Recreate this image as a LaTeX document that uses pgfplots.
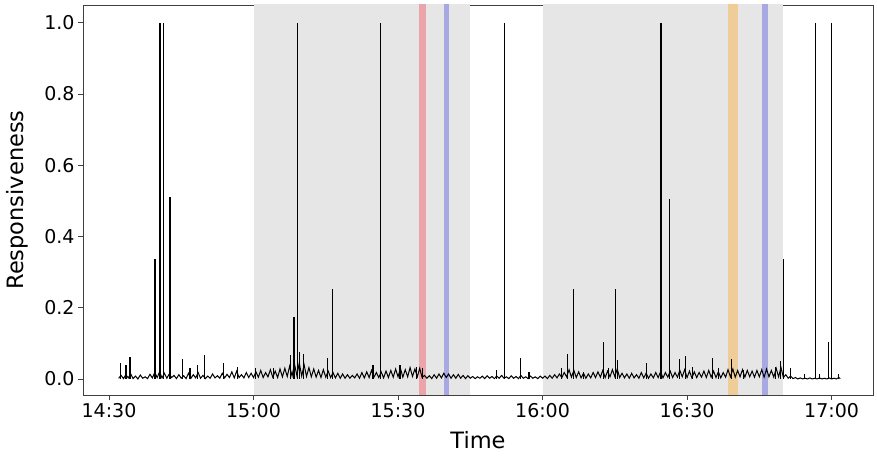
\documentclass[border=0pt]{standalone}
\usepackage{fontspec}
\setmainfont{DejaVu Sans}
\usepackage{pgfplots}
\pgfplotsset{compat=1.18}
\definecolor{spangrey}{HTML}{E6E6E6}
\definecolor{spanred}{HTML}{EBA5AA}
\definecolor{spanblue}{HTML}{A8A8E2}
\definecolor{spanorange}{HTML}{EECD98}

\begin{document}
\begin{tikzpicture}
\begin{axis}[
  scale only axis, width=790pt, height=390pt,
  xmin=-5.4, xmax=158.6, ymin=-0.045, ymax=1.05,
  xtick={0,30,60,90,120,150},
  xticklabels={14:30,15:00,15:30,16:00,16:30,17:00},
  ytick={0,0.2,0.4,0.6,0.8,1},
  yticklabel style={/pgf/number format/.cd, fixed, fixed zerofill, precision=1},
  /pgf/number format/assume math mode=true,
  tick pos=left, tick align=outside, major tick length=5pt,
  tick style={black!75, line width=0.8pt},
  axis line style={black!75, line width=0.8pt},
  ticklabel style={font=\fontsize{19}{22}\selectfont},
  label style={font=\fontsize{22.5}{26}\selectfont},
  xlabel={Time}, ylabel={Responsiveness},
  xlabel style={at={(axis description cs:0.5,-0.1154)}, anchor=center},
  ylabel style={at={(axis description cs:-0.0835,0.5)}, anchor=center},
]
% shaded periods (minutes after 14:30)
\addplot[draw=none, fill=spangrey] coordinates {(30,-1) (75,-1) (75,2) (30,2)} -- cycle;
\addplot[draw=none, fill=spangrey] coordinates {(90,-1) (140,-1) (140,2) (90,2)} -- cycle;
\addplot[draw=none, fill=spanred] coordinates {(64.4,-1) (65.8,-1) (65.8,2) (64.4,2)} -- cycle;
\addplot[draw=none, fill=spanblue] coordinates {(69.5,-1) (70.6,-1) (70.6,2) (69.5,2)} -- cycle;
\addplot[draw=none, fill=spanorange] coordinates {(128.4,-1) (130.6,-1) (130.6,2) (128.4,2)} -- cycle;
\addplot[draw=none, fill=spanblue] coordinates {(135.5,-1) (136.7,-1) (136.7,2) (135.5,2)} -- cycle;
% baseline noise
\addplot[black, line width=1pt] coordinates {
(2.0,0.002) (2.5,0.010) (3,0.001) (3.5,0.012) (4,0.003) (4.5,0.014) (5,0.001) (5.5,0.008) (6,0.000) (6.5,0.011)
(7,0.002) (7.5,0.006) (8,0.001) (8.5,0.013) (9,0.003) (9.5,0.018) (10,0.004) (10.5,0.020) (11,0.003) (11.5,0.016)
(12,0.002) (12.5,0.014) (13,0.004) (13.5,0.010) (14,0.001) (14.5,0.012) (15,0.002) (15.5,0.009) (16,0.001) (16.5,0.016)
(17,0.002) (17.5,0.012) (18,0.003) (18.5,0.018) (19,0.002) (19.5,0.010) (20,0.001) (20.5,0.008) (21,0.002) (21.5,0.014)
(22,0.003) (22.5,0.009) (23,0.002) (23.5,0.016) (24,0.003) (24.5,0.013) (25,0.004) (25.5,0.020) (26,0.003) (26.5,0.022)
(27,0.004) (27.5,0.012) (28,0.003) (28.5,0.018) (29,0.004) (29.5,0.016)
(30,0.004) (30.5,0.020) (31,0.005) (31.5,0.024) (32,0.004) (32.5,0.018) (33,0.006) (33.5,0.026) (34,0.005) (34.5,0.022)
(35,0.004) (35.5,0.028) (36,0.006) (36.5,0.030) (37,0.007) (37.5,0.036) (38,0.008) (38.5,0.042) (39,0.010) (39.5,0.045)
(40,0.008) (40.5,0.040) (41,0.007) (41.5,0.032) (42,0.006) (42.5,0.028) (43,0.005) (43.5,0.024) (44,0.004) (44.5,0.026)
(45,0.005) (45.5,0.022) (46,0.004) (46.5,0.018) (47,0.003) (47.5,0.016) (48,0.002) (48.5,0.014) (49,0.002) (49.5,0.012)
(50,0.002) (50.5,0.010) (51,0.003) (51.5,0.014) (52,0.002) (52.5,0.018) (53,0.003) (53.5,0.020) (54,0.004) (54.5,0.024)
(55,0.005) (55.5,0.018) (56,0.004) (56.5,0.020) (57,0.003) (57.5,0.022) (58,0.004) (58.5,0.024) (59,0.005) (59.5,0.028)
(60,0.006) (60.5,0.030) (61,0.005) (61.5,0.026) (62,0.006) (62.5,0.032) (63,0.007) (63.5,0.028) (64,0.006) (64.5,0.030)
(65,0.004) (65.5,0.010) (66,0.002) (66.5,0.009) (67,0.001) (67.5,0.012) (68,0.002) (68.5,0.014) (69,0.003) (69.5,0.016)
(70,0.004) (70.5,0.014) (71,0.002) (71.5,0.012) (72,0.002) (72.5,0.013) (73,0.002) (73.5,0.010) (74,0.001) (74.5,0.009)
(75,0.002) (75.5,0.007) (76,0.001) (76.5,0.006) (77,0.002) (77.5,0.008) (78,0.001) (78.5,0.009) (79,0.002) (79.5,0.007)
(80,0.001) (80.5,0.008) (81,0.002) (81.5,0.010) (82,0.002) (82.5,0.006) (83,0.001) (83.5,0.009) (84,0.002) (84.5,0.007)
(85,0.001) (85.5,0.010) (86,0.002) (86.5,0.006) (87,0.001) (87.5,0.008) (88,0.002) (88.5,0.006) (89,0.001) (89.5,0.008)
(90,0.002) (90.5,0.008) (91,0.001) (91.5,0.010) (92,0.002) (92.5,0.012) (93,0.003) (93.5,0.014) (94,0.004) (94.5,0.018)
(95,0.006) (95.5,0.026) (96,0.005) (96.5,0.024) (97,0.004) (97.5,0.020) (98,0.003) (98.5,0.016) (99,0.002) (99.5,0.014)
(100,0.003) (100.5,0.018) (101,0.004) (101.5,0.020) (102,0.005) (102.5,0.024) (103,0.004) (103.5,0.022) (104,0.006) (104.5,0.026)
(105,0.007) (105.5,0.028) (106,0.004) (106.5,0.016) (107,0.003) (107.5,0.014) (108,0.002) (108.5,0.016) (109,0.003) (109.5,0.012)
(110,0.002) (110.5,0.018) (111,0.003) (111.5,0.016) (112,0.002) (112.5,0.014) (113,0.003) (113.5,0.018) (114,0.004) (114.5,0.020)
(115,0.003) (115.5,0.018) (116,0.005) (116.5,0.022) (117,0.004) (117.5,0.018) (118,0.005) (118.5,0.024) (119,0.006) (119.5,0.026)
(120,0.004) (120.5,0.022) (121,0.003) (121.5,0.020) (122,0.004) (122.5,0.018) (123,0.005) (123.5,0.022) (124,0.004) (124.5,0.024)
(125,0.005) (125.5,0.022) (126,0.004) (126.5,0.020) (127,0.003) (127.5,0.018) (128,0.005) (128.5,0.026) (129,0.006) (129.5,0.028)
(130,0.005) (130.5,0.024) (131,0.006) (131.5,0.026) (132,0.005) (132.5,0.024) (133,0.006) (133.5,0.022) (134,0.005) (134.5,0.024)
(135,0.006) (135.5,0.026) (136,0.005) (136.5,0.028) (137,0.006) (137.5,0.024) (138,0.005) (138.5,0.030) (139,0.006) (139.5,0.032)
(140,0.004) (140.5,0.012) (141,0.002) (141.5,0.008) (142,0.001) (142.5,0.004) (143,0.000) (143.5,0.003) (144,0.000) (144.5,0.002)
(145,0.000) (145.5,0.003) (146,0.000) (146.5,0.002) (147,0.000) (147.5,0.003) (148,0.000) (148.5,0.002) (149,0.000) (149.5,0.003)
(150,0.000) (150.5,0.002) (151,0.000) (151.5,0.004) (151.8,0.001)
};
% spikes
\addplot[ycomb, black, line width=1.2pt] coordinates {
(2.43,0.046) (3.53,0.038) (4.36,0.061) (9.55,0.338) (10.45,0.502) (10.6,1.0) (11.35,1.0) (12.66,0.512)
(15.3,0.055) (16.8,0.030) (18.3,0.040) (19.8,0.066) (23.7,0.045) (26.6,0.035) (30.4,0.030) (34.1,0.030)
(37.6,0.066) (38.4,0.175) (39.2,1.0) (39.5,0.075) (40.3,0.070) (45.3,0.060) (46.4,0.252)
(54.8,0.040) (56.3,1.0) (60.4,0.040) (63.9,0.035) (65.0,0.030)
(80.5,0.025) (82.1,1.0) (85.5,0.060) (87.2,0.020)
(94.0,0.030) (95.2,0.070) (96.5,0.252) (98.5,0.020) (102.6,0.104) (103.7,0.030) (105.2,0.252) (105.5,0.052)
(111.6,0.045) (114.6,1.0) (116.4,0.504) (118.4,0.055) (119.7,0.064) (121.1,0.035) (125.3,0.060) (126.6,0.030)
(129.3,0.055) (131.7,0.025) (138.4,0.035) (139.4,0.050) (140.0,0.336) (141.5,0.030) (144.3,0.015)
(146.6,1.0) (147.5,0.013) (149.3,0.104) (150.0,1.0) (151.4,0.015)
};
\end{axis}
\pgfresetboundingbox
\path[use as bounding box] ([xshift=-83pt,yshift=-62pt]current axis.south west) rectangle ([xshift=4pt,yshift=5pt]current axis.north east);
\end{tikzpicture}
\end{document}
